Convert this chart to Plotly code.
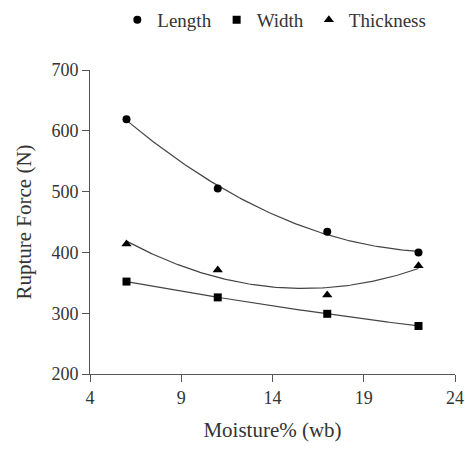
import numpy as np
import plotly.graph_objects as go

moisture = [6, 11, 17, 22]
length_force = [619, 505, 434, 400]
width_force = [352, 326, 299, 279]
thickness_force = [414, 371, 330, 378]

series = [
    ("Length", length_force, "circle", 8),
    ("Width", width_force, "square", 8),
    ("Thickness", thickness_force, "triangle-up", 9),
]

fig = go.Figure()
xs = np.linspace(min(moisture), max(moisture), 120)
for name, vals, sym, size in series:
    coef = np.polyfit(moisture, vals, 2)
    fig.add_trace(go.Scatter(x=xs, y=np.polyval(coef, xs), mode="lines",
                             line=dict(color="#444", width=1.2), showlegend=False,
                             hoverinfo="skip"))
for name, vals, sym, size in series:
    fig.add_trace(go.Scatter(x=moisture, y=vals, mode="markers", name=name,
                             marker=dict(symbol=sym, size=size, color="black")))

font = "Liberation Serif, Times New Roman, serif"
fig.update_layout(
    width=465, height=449,
    margin=dict(l=90, r=10, t=70, b=75, autoexpand=False),
    paper_bgcolor="white", plot_bgcolor="white",
    font=dict(family=font, size=18, color="#333"),
    legend=dict(orientation="h", x=0.505, xanchor="center", y=1.165, yanchor="middle",
                font=dict(size=19, color="#333"), itemwidth=30, traceorder="normal"),
)
fig.update_xaxes(range=[4, 24], tickvals=[4, 9, 14, 19, 24], showgrid=False,
                 zeroline=False, showline=True, linecolor="#555", linewidth=1,
                 ticks="outside", ticklen=7, tickcolor="#555",
                 title=dict(text="Moisture% (wb)", font=dict(size=21), standoff=15))
fig.update_yaxes(range=[200, 700], tickvals=[200, 300, 400, 500, 600, 700], showgrid=False,
                 zeroline=False, showline=True, linecolor="#555", linewidth=1,
                 ticks="outside", ticklen=7, tickcolor="#555",
                 title=dict(text="Rupture Force (N)", font=dict(size=21), standoff=14))

fig.write_html("out.html", config={"displayModeBar": False},
               post_script="document.body.style.margin='0';")
